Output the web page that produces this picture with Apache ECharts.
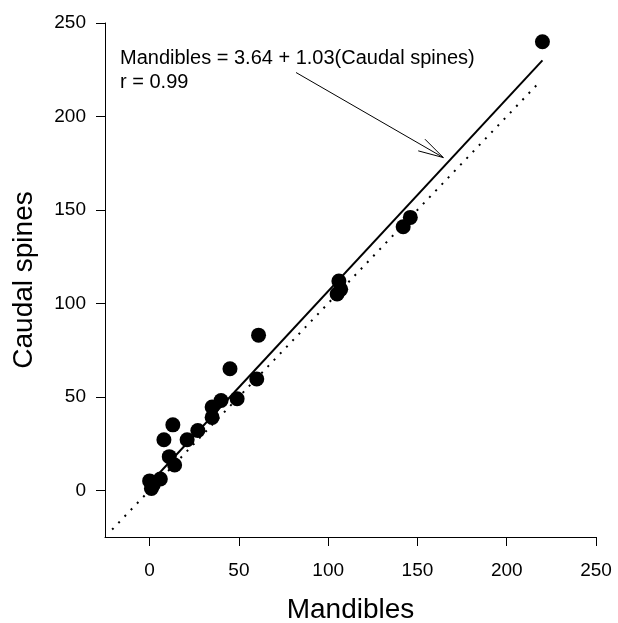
<!DOCTYPE html>
<html>
<head>
<meta charset="utf-8">
<script src="https://cdn.jsdelivr.net/npm/echarts@6/dist/echarts.min.js"></script>
<style>
  html, body { margin: 0; padding: 0; background: #fff; }
  #chart { width: 618px; height: 623px; }
</style>
</head>
<body>
<div id="chart"></div>
<script>
// points
const mandibles = [0, 1, 2, 6, 8, 11, 13, 14, 21, 27, 35, 35, 40, 45, 49, 60, 61, 105, 106, 107, 142, 146, 220]
const caudalSpines = [5, 1, 3, 6, 27, 18, 35, 13.5, 27, 32, 39, 44.5, 48, 65, 49, 59.5, 83, 105, 112, 107.5, 141, 146, 240]
// fitted line ends and 1:1 line ends
const fitLine = [[0, 3.6], [220, 230]]
const oneToOne = [[-21, -21], [217, 217]]
const tickValues = [0, 50, 100, 150, 200, 250]
// arrow from the equation to the fitted line (data units)
const arrowFrom = [82, 223.5]
const arrowTo = [164.5, 178]

const FONT = "'Liberation Sans', Arial, sans-serif"
const chart = echarts.init(document.getElementById('chart'))

const axisCommon = {
  type: 'value',
  min: -25,
  max: 250,
  nameLocation: 'middle',
  nameTextStyle: { fontFamily: FONT, fontSize: 28, color: '#000' },
  axisLine: { show: true, onZero: false, lineStyle: { color: '#000', width: 1 } },
  axisTick: { show: true, length: 9, customValues: tickValues, lineStyle: { color: '#000' } },
  axisLabel: { customValues: tickValues, fontFamily: FONT, fontSize: 19, color: '#000' },
  splitLine: { show: false }
}

chart.setOption({
  animation: false,
  grid: { left: 105, right: 22, top: 23, bottom: 86, outerBoundsMode: 'none' },
  xAxis: Object.assign({}, axisCommon, {
    name: 'Mandibles',
    nameGap: 59,
    axisLabel: Object.assign({}, axisCommon.axisLabel, { margin: 24 })
  }),
  yAxis: Object.assign({}, axisCommon, {
    name: 'Caudal spines',
    nameGap: 67,
    axisLabel: Object.assign({}, axisCommon.axisLabel, { margin: 19 })
  }),
  series: [
    {
      type: 'line',
      data: oneToOne,
      symbol: 'none',
      lineStyle: { color: '#000', width: 2, type: [2, 7] },
      z: 1
    },
    {
      type: 'line',
      data: fitLine,
      symbol: 'none',
      lineStyle: { color: '#000', width: 2 },
      z: 2
    },
    {
      type: 'scatter',
      data: mandibles.map((m, i) => [m, caudalSpines[i]]),
      symbolSize: 15,
      itemStyle: { color: '#000', opacity: 1 },
      z: 3
    }
  ]
})

// annotation text + open arrow
const p0 = chart.convertToPixel({ gridIndex: 0 }, arrowFrom)
const p1 = chart.convertToPixel({ gridIndex: 0 }, arrowTo)
const ang = Math.atan2(p1[1] - p0[1], p1[0] - p0[0])
const headLen = 26
const headAng = 15 * Math.PI / 180
const arm = a => [p1[0] - headLen * Math.cos(ang + a), p1[1] - headLen * Math.sin(ang + a)]

chart.setOption({
  graphic: [
    {
      type: 'text', left: 120, top: 48,
      style: { text: 'Mandibles = 3.64 + 1.03(Caudal spines)', font: '20px ' + FONT, fill: '#000' }
    },
    {
      type: 'text', left: 120, top: 72,
      style: { text: 'r = 0.99', font: '20px ' + FONT, fill: '#000' }
    },
    {
      type: 'polyline',
      shape: { points: [p0, p1] },
      style: { stroke: '#000', lineWidth: 1, fill: null }
    },
    {
      type: 'polyline',
      shape: { points: [arm(headAng), p1, arm(-headAng)] },
      style: { stroke: '#000', lineWidth: 1, fill: null }
    }
  ]
})
</script>
</body>
</html>
